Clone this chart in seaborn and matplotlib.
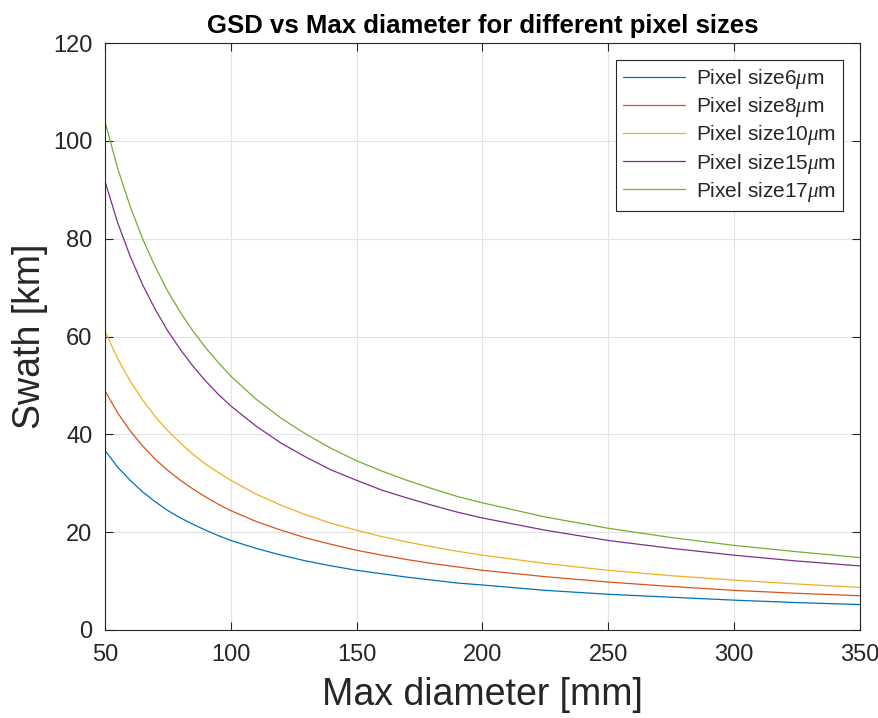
import numpy as np
import pandas as pd
import seaborn as sns
import matplotlib
matplotlib.use("Agg")
import matplotlib.pyplot as plt

diameter = [50, 55, 60, 65, 70, 75, 80, 85, 90, 95, 100, 110, 120, 130, 140, 150,
            160, 170, 180, 190, 200, 225, 250, 275, 300, 325, 350]
swath_6 = [36.7, 33.3, 30.6, 28.2, 26.2, 24.4, 22.9, 21.6, 20.4, 19.3, 18.3, 16.7, 15.3, 14.1,
           13.1, 12.2, 11.5, 10.8, 10.2, 9.6, 9.2, 8.1, 7.3, 6.7, 6.1, 5.6, 5.2]
swath_8 = [48.9, 44.4, 40.7, 37.6, 34.9, 32.6, 30.6, 28.8, 27.2, 25.7, 24.4, 22.2, 20.4, 18.8,
           17.5, 16.3, 15.3, 14.4, 13.6, 12.9, 12.2, 10.9, 9.8, 8.9, 8.1, 7.5, 7.0]
swath_10 = [61.1, 55.5, 50.9, 47.0, 43.6, 40.7, 38.2, 35.9, 33.9, 32.2, 30.6, 27.8, 25.5, 23.5,
            21.8, 20.4, 19.1, 18.0, 17.0, 16.1, 15.3, 13.6, 12.2, 11.1, 10.2, 9.4, 8.7]
swath_15 = [91.7, 83.3, 76.4, 70.5, 65.5, 61.1, 57.3, 53.9, 50.9, 48.2, 45.8, 41.7, 38.2, 35.3,
            32.7, 30.6, 28.6, 27.0, 25.5, 24.1, 22.9, 20.4, 18.3, 16.7, 15.3, 14.1, 13.1]
swath_17 = [103.9, 94.4, 86.6, 79.9, 74.2, 69.2, 64.9, 61.1, 57.7, 54.7, 51.9, 47.2, 43.3, 40.0,
            37.1, 34.6, 32.5, 30.6, 28.9, 27.3, 26.0, 23.1, 20.8, 18.9, 17.3, 16.0, 14.8]
labels = [r"Pixel size6$\mu$m", r"Pixel size8$\mu$m", r"Pixel size10$\mu$m",
          r"Pixel size15$\mu$m", r"Pixel size17$\mu$m"]
colors = ["#0072BD", "#D95319", "#EDB120", "#7E2F8E", "#77AC30"]

series = [swath_6, swath_8, swath_10, swath_15, swath_17]
rows = []
for lab, ys in zip(labels, series):
    for x, y in zip(diameter, ys):
        rows.append({"Max diameter [mm]": x, "Swath [km]": y, "Series": lab})
df = pd.DataFrame(rows)

sns.set_theme(style="whitegrid")
plt.rcParams["font.family"] = ["Liberation Sans", "DejaVu Sans"]
plt.rcParams["mathtext.fontset"] = "custom"
plt.rcParams["mathtext.it"] = "Liberation Serif:italic"

fig = plt.figure(figsize=(8.79, 7.18), dpi=100)
ax = fig.add_axes([0.1195, 0.1226, 0.8585, 0.8174])
sns.lineplot(data=df, x="Max diameter [mm]", y="Swath [km]", hue="Series",
             palette=colors, hue_order=labels, linewidth=0.9, ax=ax)

ax.set_xlim(50, 350)
ax.set_ylim(0, 120)
ax.set_xticks([50, 100, 150, 200, 250, 300, 350])
ax.set_yticks([0, 20, 40, 60, 80, 100, 120])
ax.grid(True, color="#e3e3e3", linewidth=0.8)
for s in ax.spines.values():
    s.set_color("#262626")
    s.set_linewidth(0.8)
ax.tick_params(axis="both", which="both", direction="in", length=6, width=0.8,
               colors="#262626", labelsize=17, top=True, right=True,
               bottom=True, left=True)
ax.tick_params(axis="x", pad=10)
ax.tick_params(axis="y", pad=9)
ax.set_xlabel("Max diameter [mm]", fontsize=27, color="#262626", labelpad=8)
ax.set_ylabel("Swath [km]", fontsize=27, color="#262626", labelpad=4)
ax.set_title("GSD vs Max diameter for different pixel sizes", fontsize=18.5,
             fontweight="bold", color="black", pad=7)

leg = ax.legend(loc="upper right", fontsize=15, frameon=True, fancybox=False,
                edgecolor="#262626", framealpha=1, handlelength=3.0,
                handletextpad=0.5, borderaxespad=0.8, labelspacing=0.2,
                borderpad=0.35)
leg.get_frame().set_linewidth(0.8)
leg.set_title(None)

fig.savefig("out.png", dpi=100)
